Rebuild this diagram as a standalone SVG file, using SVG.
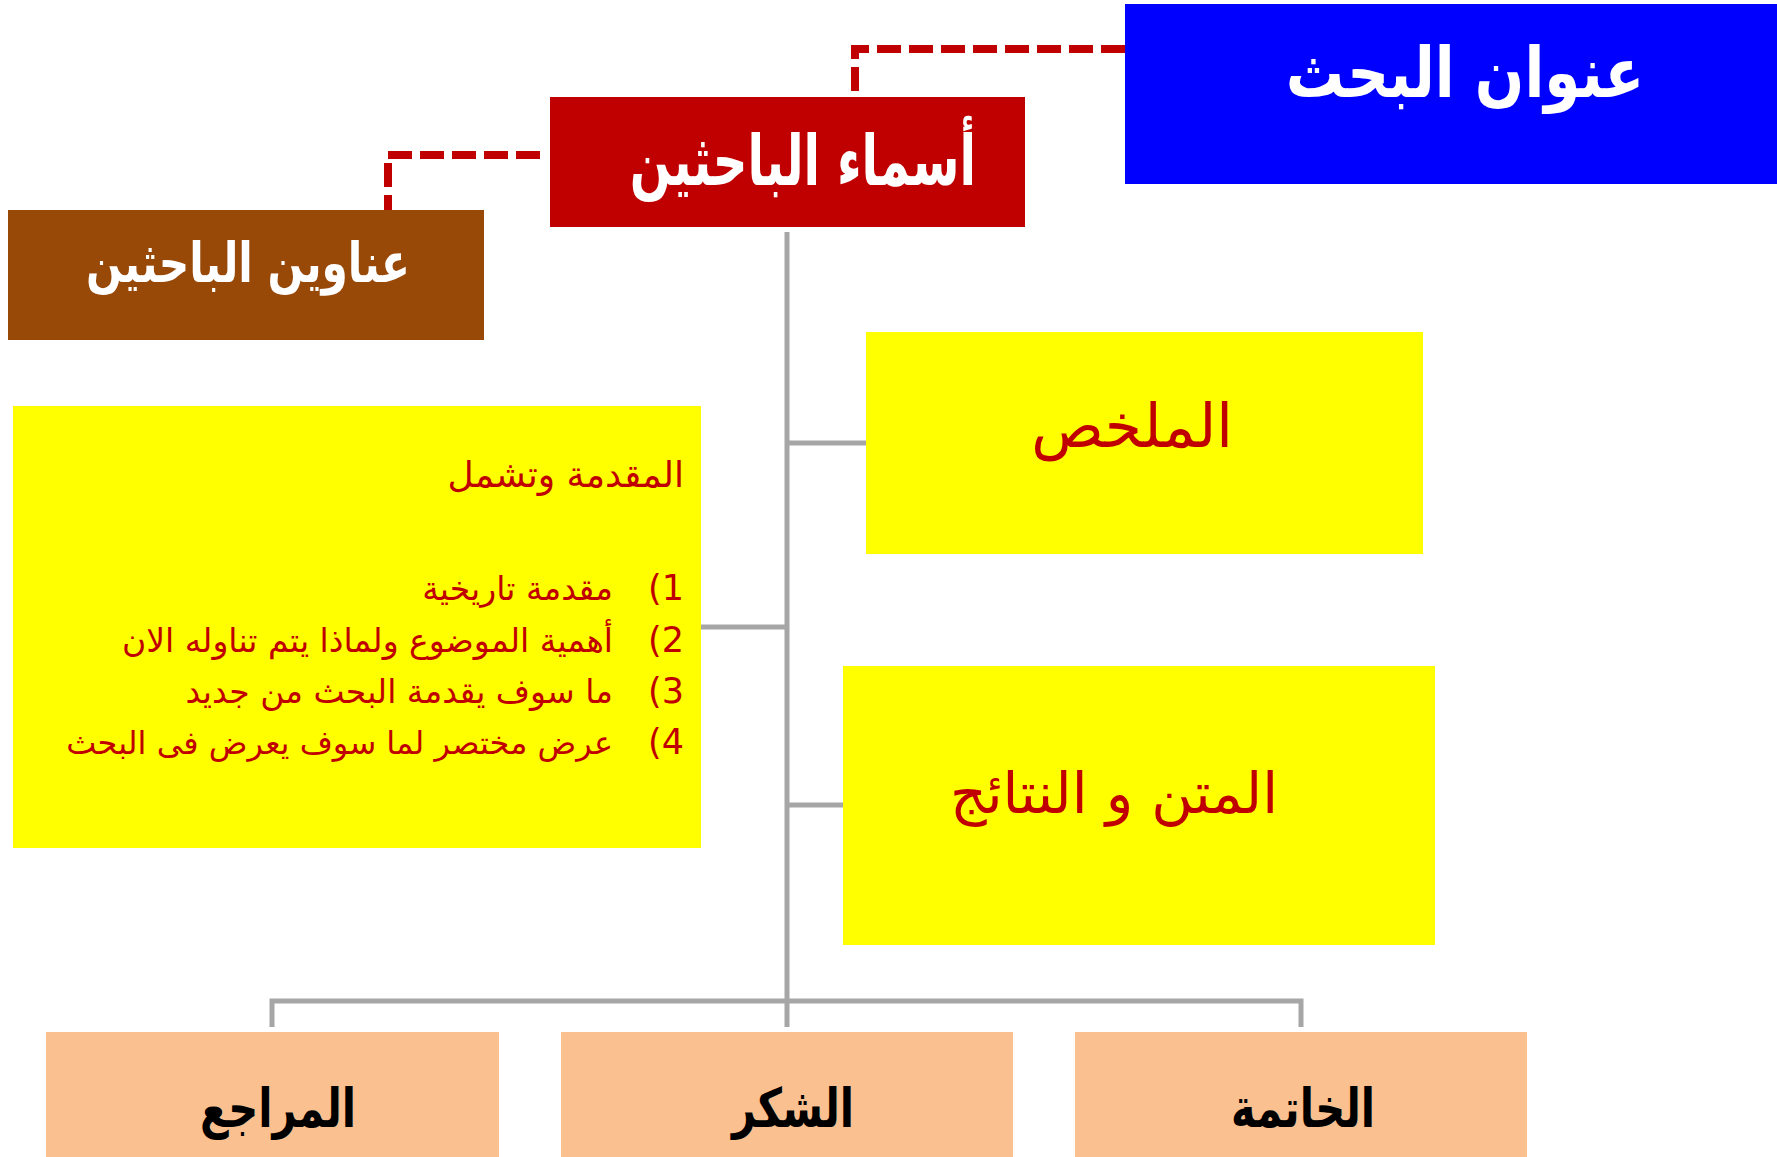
<svg xmlns="http://www.w3.org/2000/svg" width="1777" height="1157" viewBox="0 0 1777 1157">
<style>
.ar{font-family:"DejaVu Sans",sans-serif}
.w{fill:#FFFFFF;font-weight:bold}
.r{fill:#C00000}
.k{fill:#000000;font-weight:bold}
.num{direction:ltr;unicode-bidi:bidi-override}
.gl{stroke:#A6A6A6;stroke-width:5;fill:none}
.dl{stroke:#C00000;stroke-width:8;fill:none;stroke-dasharray:24 8}
</style>
<rect width="1777" height="1157" fill="#FFFFFF"/>
<g id="connectors">
<path class="dl" d="M1125,49 H855 V97"/>
<path class="dl" d="M548,155 H388 V210" stroke-dashoffset="24"/>
<path class="gl" d="M787,232 V1027"/>
<path class="gl" d="M787,443 H866"/>
<path class="gl" d="M701,627 H787"/>
<path class="gl" d="M787,805 H843"/>
<path class="gl" d="M272,1027 V1001 H1301 V1027"/>
</g>
<g id="title">
<rect x="1125" y="4" width="652" height="180" fill="#0000FF"/>
<text class="ar w" transform="translate(1465,97) scale(0.83,1)" font-size="70" text-anchor="middle">عنوان البحث</text>
</g>
<g id="authors">
<rect x="550" y="97" width="475" height="130" fill="#C00000"/>
<text class="ar w" transform="translate(803,185) scale(0.69,1)" font-size="70" text-anchor="middle">أسماء الباحثين</text>
</g>
<g id="addresses">
<rect x="8" y="210" width="476" height="130" fill="#984807"/>
<text class="ar w" transform="translate(248,282) scale(0.77,1)" font-size="55" text-anchor="middle">عناوين الباحثين</text>
</g>
<g id="intro">
<rect x="13" y="406" width="688" height="442" fill="#FFFF00"/>
<text class="ar r" x="684" y="487" font-size="36" text-anchor="end">المقدمة وتشمل</text>
<text class="ar r num" x="684" y="600" font-size="35" text-anchor="end">(1</text>
<text class="ar r" x="613" y="600" font-size="33" text-anchor="end">مقدمة تاريخية</text>
<text class="ar r num" x="684" y="652" font-size="35" text-anchor="end">(2</text>
<text class="ar r" x="613" y="652" font-size="33" text-anchor="end">أهمية الموضوع ولماذا يتم تناوله الان</text>
<text class="ar r num" x="684" y="703" font-size="35" text-anchor="end">(3</text>
<text class="ar r" x="613" y="703" font-size="33" text-anchor="end">ما سوف يقدمة البحث من جديد</text>
<text class="ar r num" x="684" y="754" font-size="35" text-anchor="end">(4</text>
<text class="ar r" x="613" y="754" font-size="32" text-anchor="end">عرض مختصر لما سوف يعرض فى البحث</text>
</g>
<g id="abstract">
<rect x="866" y="332" width="557" height="222" fill="#FFFF00"/>
<text class="ar r" x="1132" y="447" font-size="60" text-anchor="middle">الملخص</text>
</g>
<g id="body">
<rect x="843" y="666" width="592" height="279" fill="#FFFF00"/>
<text class="ar r" x="1114" y="813" font-size="57" text-anchor="middle">المتن و النتائج</text>
</g>
<g id="references">
<rect x="46" y="1032" width="453" height="125" fill="#FAC090"/>
<text class="ar k" transform="translate(278,1127) scale(0.77,1)" font-size="54" text-anchor="middle">المراجع</text>
</g>
<g id="thanks">
<rect x="561" y="1032" width="452" height="125" fill="#FAC090"/>
<text class="ar k" transform="translate(793,1127) scale(0.77,1)" font-size="54" text-anchor="middle">الشكر</text>
</g>
<g id="conclusion">
<rect x="1075" y="1032" width="452" height="125" fill="#FAC090"/>
<text class="ar k" transform="translate(1303,1127) scale(0.77,1)" font-size="54" text-anchor="middle">الخاتمة</text>
</g>
</svg>
